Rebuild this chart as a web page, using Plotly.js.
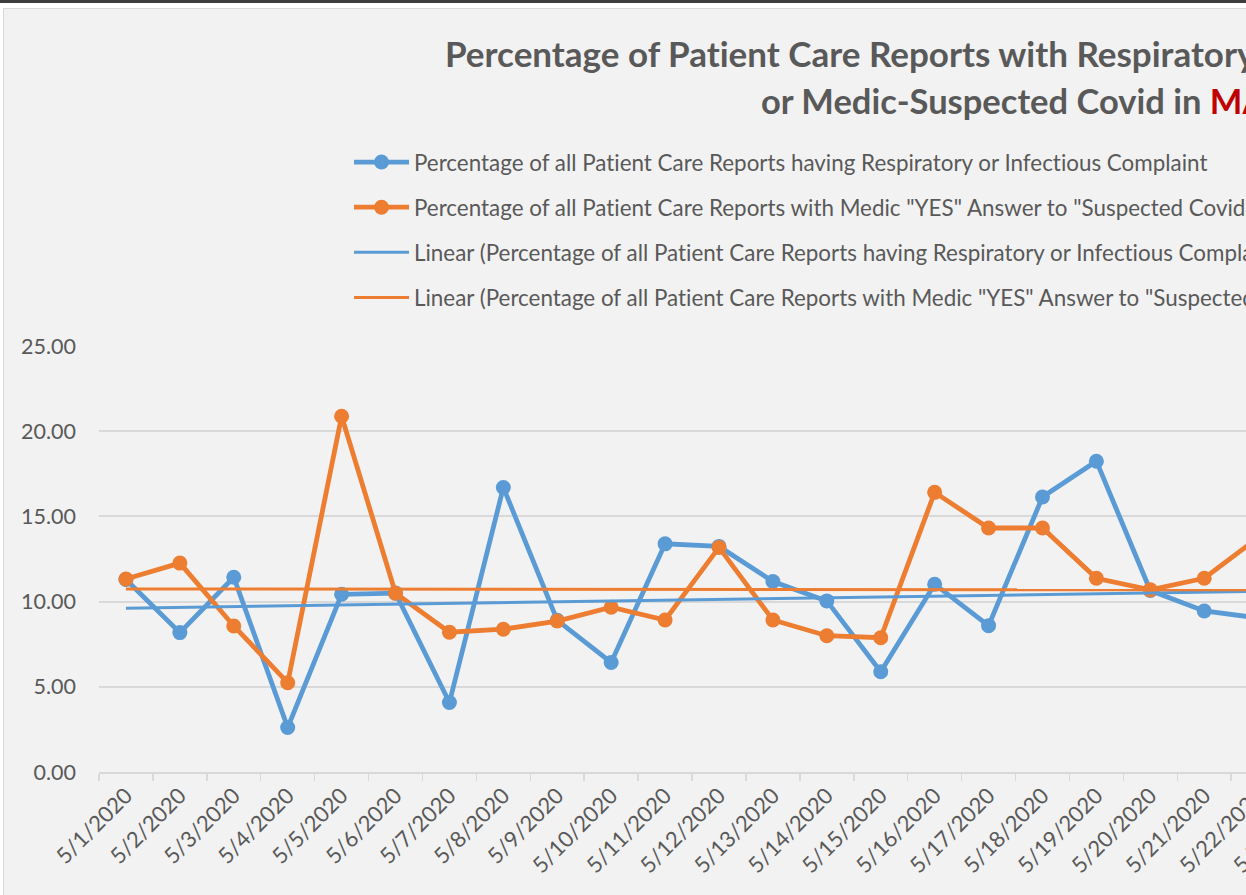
<!DOCTYPE html>
<html>
<head>
<meta charset="utf-8">
<script src="https://cdn.plot.ly/plotly-3.0.1.min.js"></script>
<style>
  html, body { margin: 0; padding: 0; background: #ffffff; width: 1246px; height: 895px; overflow: hidden; }
  #topbar { position: absolute; left: 0; top: 0; width: 1246px; height: 3px; background: #3c3c3c; }
  #frame { position: absolute; left: 3px; top: 8px; width: 1243px; height: 887px; border-left: 1px solid #d9d9d9; border-top: 1px solid #d9d9d9; overflow: hidden; }
  #chart { width: 1335px; height: 886px; }
  #chart text { font-variant-ligatures: none; font-feature-settings: "liga" 0; }
</style>
</head>
<body>
<div id="topbar"></div>
<div id="frame"><div id="chart"></div></div>
<script>
// ---- data ----
// category labels on the x axis (the chart is cropped on the right, 5/23 label only partly visible)
const dates = ["5/1/2020","5/2/2020","5/3/2020","5/4/2020","5/5/2020","5/6/2020","5/7/2020",
  "5/8/2020","5/9/2020","5/10/2020","5/11/2020","5/12/2020","5/13/2020","5/14/2020",
  "5/15/2020","5/16/2020","5/17/2020","5/18/2020","5/19/2020","5/20/2020","5/21/2020","5/22/2020",
  "5/23/2020"];

const respiratoryPct = [11.3, 8.18, 11.43, 2.61, 10.43, 10.5, 4.08, 16.7, 8.9, 6.43, 13.39,
  13.24, 11.18, 10.04, 5.88, 11.02, 8.59, 16.14, 18.24, 10.65, 9.45, 9.04];

const suspectedCovidPct = [11.33, 12.26, 8.57, 5.24, 20.88, 10.49, 8.2, 8.38, 8.86, 9.67, 8.92,
  13.18, 8.92, 8.0, 7.88, 16.41, 14.32, 14.32, 11.37, 10.69, 11.37, 13.76];

// linear trendline values at the first and last plotted date
const trendDates = [dates[0], dates[respiratoryPct.length - 1]];
const respiratoryTrend = [9.61, 10.60];
const suspectedCovidTrend = [10.74, 10.69];

const yTickVals = [0, 5, 10, 15, 20, 25];

const seriesNames = [
  'Percentage of all Patient Care Reports having Respiratory or Infectious Complaint',
  'Percentage of all Patient Care Reports with Medic "YES" Answer to "Suspected Covid-19"',
  'Linear (Percentage of all Patient Care Reports having Respiratory or Infectious Complaint)',
  'Linear (Percentage of all Patient Care Reports with Medic "YES" Answer to "Suspected Covid-19")'
];

// ---- styling ----
const BLUE = '#5B9BD5', ORANGE = '#ED7D31', TXT = '#595959', GRID = '#D9D9D9';
const FONT = 'Lato, "Open Sans", sans-serif';
const W = 1335, H = 886, ML = 95, MT = 337, MB = 123;
const PW = W - ML, PH = H - MT - MB;

const traces = [
  { x: dates.slice(0, respiratoryPct.length), y: respiratoryPct, name: seriesNames[0], type: 'scatter', mode: 'lines+markers',
    line: { color: BLUE, width: 4.8 }, marker: { color: BLUE, size: 15 }, legendgroup: 'a' },
  { x: dates.slice(0, suspectedCovidPct.length), y: suspectedCovidPct, name: seriesNames[1], type: 'scatter', mode: 'lines+markers',
    line: { color: ORANGE, width: 4.8 }, marker: { color: ORANGE, size: 15 }, legendgroup: 'b' },
  { x: trendDates, y: respiratoryTrend, name: seriesNames[2], type: 'scatter', mode: 'lines',
    line: { color: BLUE, width: 3 }, legendgroup: 'c' },
  { x: trendDates, y: suspectedCovidTrend, name: seriesNames[3], type: 'scatter', mode: 'lines',
    line: { color: ORANGE, width: 3 }, legendgroup: 'd' }
];

const layout = {
  width: W, height: H,
  margin: { l: ML, r: 0, t: MT, b: MB, pad: 0, autoexpand: false },
  paper_bgcolor: '#F2F2F2', plot_bgcolor: '#F2F2F2',
  font: { family: FONT, color: TXT, size: 20 },
  showlegend: true,
  hovermode: false,
  title: {
    text: 'Percentage of Patient Care Reports with Respiratory or Infectious Complaint',
    font: { family: FONT, size: 35, color: TXT, weight: 'bold' },
    xref: 'container', yref: 'container',
    x: 441 / W, xanchor: 'left',
    y: 1 - 46 / H, yanchor: 'middle'
  },
  annotations: [{
    text: 'or Medic-Suspected Covid in <span style="color:#C00000">MAY 2020</span>',
    xref: 'paper', yref: 'paper', x: (755 - ML) / PW, y: (H - MB - 91) / PH,
    xanchor: 'left', yanchor: 'middle', showarrow: false,
    font: { family: FONT, size: 34.5, color: TXT, weight: 'bold' }
  }],
  legend: {
    x: (345 - ML) / PW, y: (H - MB - 132) / PH, xanchor: 'left', yanchor: 'top',
    bgcolor: 'rgba(0,0,0,0)', traceorder: 'grouped', tracegroupgap: 13,
    itemwidth: 55, font: { family: FONT, size: 22.4, color: TXT }
  },
  xaxis: {
    type: 'category', categoryorder: 'array', categoryarray: dates,
    range: [-0.5, dates.length - 0.5],
    showgrid: false, zeroline: false,
    showline: true, linecolor: GRID, linewidth: 2,
    ticks: 'outside', tickson: 'boundaries', ticklen: 7, tickcolor: GRID, tickwidth: 1.5,
    tickangle: -45, tickfont: { family: FONT, size: 22, color: TXT },
    fixedrange: true
  },
  yaxis: {
    range: [0, 25], tickvals: yTickVals, tickformat: '.2f',
    showgrid: true, gridcolor: GRID, gridwidth: 2,
    zeroline: false, showline: false, ticks: '',
    ticklabelstandoff: 22,
    tickfont: { family: FONT, size: 21.5, color: TXT },
    fixedrange: true
  }
};

Plotly.newPlot('chart', traces, layout, { displayModeBar: false, staticPlot: true });
</script>
</body>
</html>
